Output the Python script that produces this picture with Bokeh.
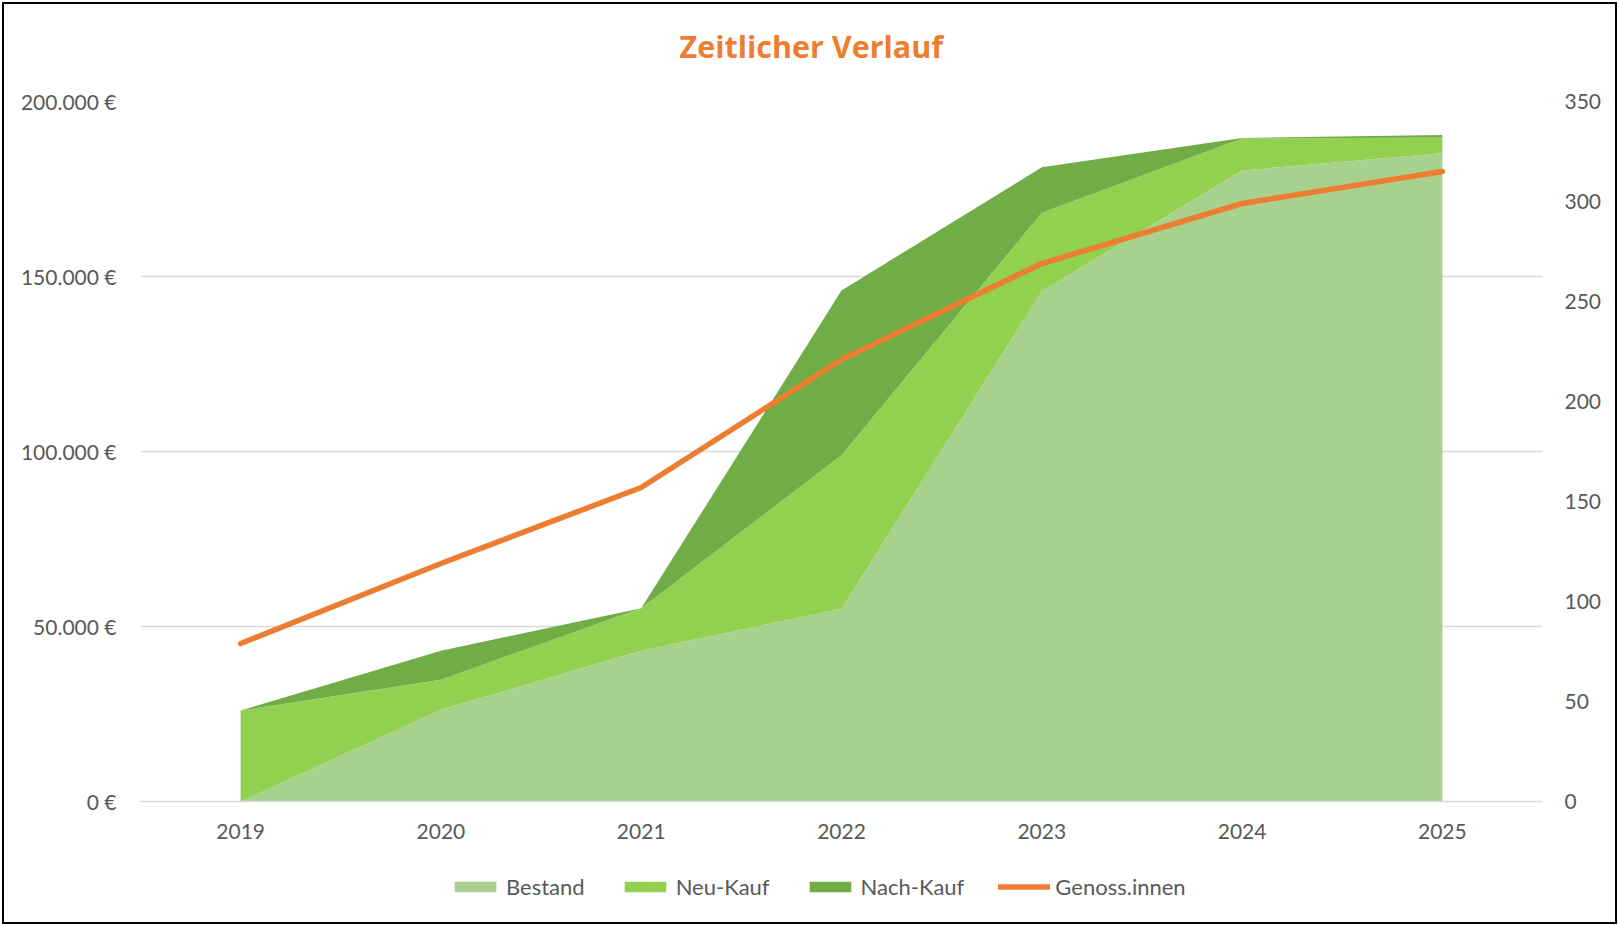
from bokeh.plotting import figure
from bokeh.layouts import column
from bokeh.models import (ColumnDataSource, FactorRange, Range1d, LinearAxis,
                          FixedTicker, Legend, LegendItem, Title)
from bokeh.embed import file_html
from bokeh.resources import INLINE

# ---- data ----
years = ["2019", "2020", "2021", "2022", "2023", "2024", "2025"]
bestand = [0, 26200, 43100, 55100, 145800, 180300, 185200]
neu_kauf = [26000, 8600, 12100, 43800, 22400, 9100, 4500]
nach_kauf = [0, 8300, 0, 47100, 13000, 200, 700]
genoss = [79, 119, 157, 221, 269, 299, 315]

left_ticks = [0, 50000, 100000, 150000, 200000]
left_tick_labels = ["0 €", "50.000 €", "100.000 €", "150.000 €", "200.000 €"]
right_ticks = [0, 50, 100, 150, 200, 250, 300, 350]

title_text = "Zeitlicher Verlauf"
series_names = ["Bestand", "Neu-Kauf", "Nach-Kauf"]
line_name = "Genoss.innen"

# ---- styles ----
FONT = "Lato"
TXT = "#595959"
GRID = "#D9D9D9"
COLORS = ["#A9D18E", "#92D050", "#70AD47"]
ORANGE = "#ED7D31"

src = ColumnDataSource(dict(x=years, Bestand=bestand, Neu=neu_kauf,
                            Nach=nach_kauf, Genoss=genoss))

p = figure(frame_width=1402, frame_height=700,
           x_range=FactorRange(factors=years, range_padding=0),
           y_range=Range1d(0, 200000),
           output_backend="svg", toolbar_location=None,
           min_border_left=136, min_border_right=73,
           min_border_top=97, min_border_bottom=46)
p.outline_line_color = None
p.background_fill_color = "white"
p.border_fill_color = "white"

p.extra_y_ranges = {"right": Range1d(0, 350)}

p.varea_stack(["Bestand", "Neu", "Nach"], x="x", source=src, color=COLORS)
p.line(x="x", y="Genoss", source=src, y_range_name="right",
       line_color=ORANGE, line_width=5.5, line_cap="round", line_join="round")

# axes
xa = p.xaxis[0]
xa.axis_line_color = GRID
xa.axis_line_width = 1.5
xa.major_tick_line_color = None
xa.minor_tick_line_color = None
xa.major_label_text_font = FONT
xa.major_label_text_font_size = "21px"
xa.major_label_text_color = TXT
xa.major_label_standoff = 16

ya = p.yaxis[0]
ya.ticker = FixedTicker(ticks=left_ticks)
ya.major_label_overrides = {t: l for t, l in zip(left_ticks, left_tick_labels)}
ya.axis_line_color = None
ya.major_tick_line_color = None
ya.minor_tick_line_color = None
ya.major_label_text_font = FONT
ya.major_label_text_font_size = "21px"
ya.major_label_text_color = TXT
ya.major_label_standoff = 18

ra = LinearAxis(y_range_name="right", ticker=FixedTicker(ticks=right_ticks))
ra.axis_line_color = None
ra.major_tick_line_color = None
ra.minor_tick_line_color = None
ra.major_label_text_font = FONT
ra.major_label_text_font_size = "21px"
ra.major_label_text_color = TXT
ra.major_label_standoff = 16
p.add_layout(ra, "right")

p.xgrid.grid_line_color = None
p.ygrid.grid_line_color = GRID
p.ygrid.grid_line_width = 1.5

# title
title = Title(text=title_text, align="left", offset=539,
              vertical_align="top", standoff=0,
              padding=dict(left=0, right=0, top=0, bottom=33),
              text_font="Open Sans", text_font_style="bold",
              text_font_size="30.5px", text_color=ORANGE)
p.add_layout(title, "above")

# legend strip (holds the legend; its proxy renderers lie outside the view)
pl = figure(width=1611, height=75, output_backend="svg",
            x_range=Range1d(0, 1), y_range=Range1d(0, 1),
            toolbar_location=None, x_axis_location=None,
            y_axis_location=None, min_border=0)
pl.outline_line_color = None
pl.grid.visible = False
proxy = ColumnDataSource(dict(x=[-10], y1=[-10], y2=[-10]))
leg_r = [pl.varea(x="x", y1="y1", y2="y2", source=proxy, color=c)
         for c in COLORS]
leg_r.append(pl.line(x="x", y="y1", source=proxy, line_color=ORANGE,
                     line_width=5.5, line_cap="round"))

items = [LegendItem(label=n, renderers=[r])
         for n, r in zip(series_names + [line_name], leg_r)]
legend = Legend(items=items, orientation="horizontal", location=(309, 22),
                padding=0, margin=0, spacing=34, label_standoff=5,
                glyph_width=52, glyph_height=13, label_height=21,
                label_text_font=FONT, label_text_font_size="22px",
                label_text_color=TXT, border_line_color=None,
                background_fill_alpha=0)
pl.add_layout(legend, "center")

layout = column(p, pl, spacing=0,
                styles={"margin-left": "2px", "margin-top": "2px",
                        "border": "2px solid black",
                        "background-color": "white"})

open("out.html", "w").write(file_html(layout, INLINE))
